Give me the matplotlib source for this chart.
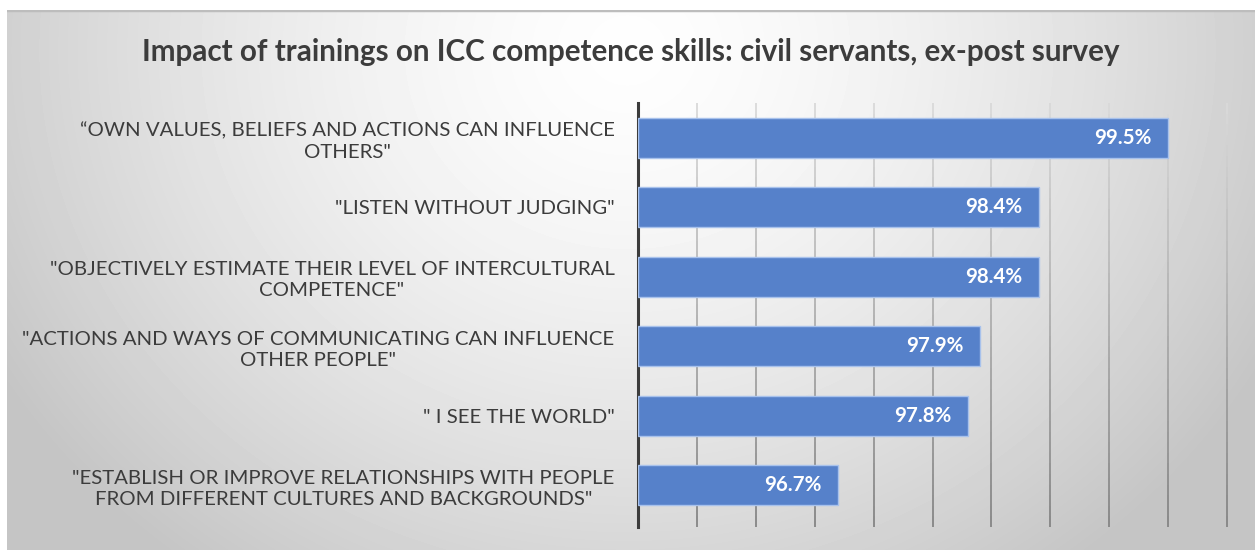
import numpy as np
import matplotlib.pyplot as plt
from matplotlib.collections import LineCollection

# survey items, top to bottom
labels = [
    '\u201cOWN VALUES, BELIEFS AND ACTIONS CAN INFLUENCE\nOTHERS"',
    '"LISTEN WITHOUT JUDGING"',
    '"OBJECTIVELY ESTIMATE THEIR LEVEL OF INTERCULTURAL\nCOMPETENCE"',
    '"ACTIONS AND WAYS OF COMMUNICATING CAN INFLUENCE\nOTHER PEOPLE"',
    '" I SEE THE WORLD"',
    '"ESTABLISH OR IMPROVE RELATIONSHIPS WITH PEOPLE\nFROM DIFFERENT CULTURES AND BACKGROUNDS"',
]
values = [99.5, 98.4, 98.4, 97.9, 97.8, 96.7]
title = 'Impact of trainings on ICC competence skills: civil servants, ex-post survey'
x_min, x_max, x_step = 95.0, 100.0, 0.5

plt.rcParams['font.family'] = ['Lato', 'DejaVu Sans']
text_col = '#3c3c3c'
bar_col = '#5681CA'

W, H = 1255, 550
fig = plt.figure(figsize=(W / 100, H / 100), dpi=100)
fig.patch.set_facecolor('white')

# grey radial backdrop of the chart panel
bg = fig.add_axes([7 / W, 0, 1 - 7 / W, 1 - 10 / H])
yy, xx = np.mgrid[0:540, 0:1248]
d = np.sqrt(((xx - 620) / 740.0) ** 2 + ((yy - 40) / 660.0) ** 2)
shade = np.clip(0.995 - 0.23 * d ** 1.5, 0.77, 1.0)
bg.imshow(shade, cmap='gray', vmin=0, vmax=1, aspect='auto',
          interpolation='bilinear', extent=[0, 1, 0, 1])
bg.axhline(1.0, color='#bdbdbd', lw=2.5)
bg.set_axis_off()

ax = fig.add_axes([638 / W, 1 - 520 / H, (1227 - 638) / W, (520 - 103) / H])
ax.patch.set_alpha(0)

y = np.arange(len(values))
ax.barh(y, [v - x_min for v in values], left=x_min, height=0.58,
        color=bar_col, edgecolor='#a8c2ec', linewidth=1.0, zorder=3)
for yi, v in zip(y, values):
    ax.text(v - 0.14, yi, f'{v:.1f}%', ha='right', va='center',
            color='white', fontsize=14.8, fontweight='bold', zorder=4)

ax.set_xlim(x_min, x_max)
ax.set_ylim(len(values) - 0.5, -0.5)

# vertical gridlines, fading lighter toward the top
segs, cols = [], []
n = 40
for gx in np.arange(x_min + x_step, x_max + 0.01, x_step):
    for k in range(n):
        y0 = len(values) - 0.4 - k * (len(values) + 0.1) / n
        y1 = len(values) - 0.4 - (k + 1) * (len(values) + 0.1) / n
        segs.append([(gx, y0), (gx, y1)])
        g = 0.52 + 0.34 * (k / n)
        cols.append((g, g, g))
ax.add_collection(LineCollection(segs, colors=cols, linewidths=1.3,
                                 zorder=1, clip_on=False))

for s in ['top', 'right', 'bottom']:
    ax.spines[s].set_visible(False)
ax.spines['left'].set_color(text_col)
ax.spines['left'].set_linewidth(2.2)
ax.spines['left'].set_bounds(len(values) - 0.4, -0.5)
ax.set_xticks([])
ax.set_yticks(y)
ax.set_yticklabels(labels, fontsize=14.7, color=text_col, ha='right',
                   multialignment='center', linespacing=1.3)
ax.tick_params(axis='y', length=0, pad=17)

fig.text(0.5 + 3 / W, 1 - 52 / H, title, ha='center', va='center',
         fontsize=21.3, fontweight='bold', color=text_col)

fig.savefig('out.png', dpi=100)
